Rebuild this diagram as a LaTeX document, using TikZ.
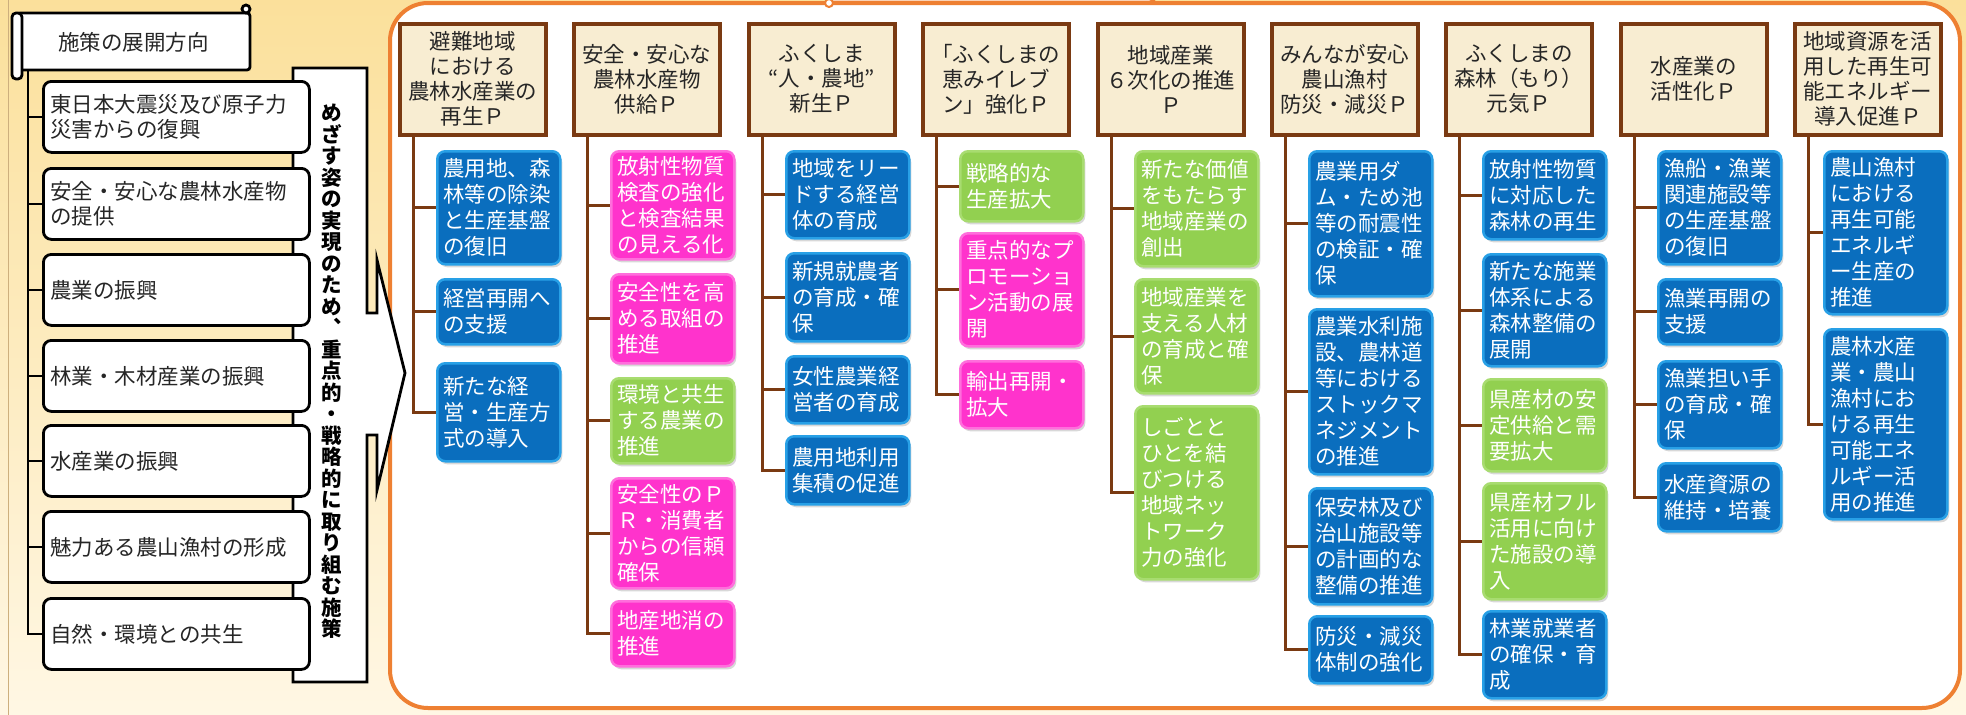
\documentclass[tikz,border=0pt]{standalone}
\usepackage{fontspec}
\setmainfont{Noto Sans CJK JP}
\usetikzlibrary{shadows}
\definecolor{bgtop}{RGB}{251,224,155}
\definecolor{bgbot}{RGB}{255,247,228}
\definecolor{frameor}{RGB}{238,128,50}
\definecolor{hbrown}{RGB}{122,58,18}
\definecolor{hbeige}{RGB}{248,237,210}
\definecolor{cblue}{RGB}{10,110,190}
\definecolor{cblueR}{RGB}{40,160,230}
\definecolor{cpink}{RGB}{255,51,204}
\definecolor{cpinkR}{RGB}{255,110,220}
\definecolor{cgreen}{RGB}{146,208,80}
\definecolor{cgreenR}{RGB}{168,220,112}
\definecolor{tan}{RGB}{205,175,125}
\newcommand\fsL{\fontsize{21.5}{25}\selectfont}
\newcommand\fsC{\fontsize{21.5}{26}\selectfont}
\newcommand\fsV{\bfseries\fontsize{20.5}{21.5}\selectfont}
\tikzset{
  blk/.style={draw=black, line width=2.8pt},
  lbox/.style={blk, fill=white, rounded corners=8pt, anchor=north west,
    minimum width=266pt, minimum height=71pt, text width=252pt, inner xsep=7pt,
    align=left, font=\fsL, text=black!85},
  hdr/.style={draw=hbrown, line width=3.5pt, fill=hbeige, anchor=north west,
    minimum width=146pt, minimum height=111pt, inner sep=0pt, align=center,
    font=\fsL, text=black!85},
  cbox/.style={rounded corners=8pt, anchor=north west, minimum width=123pt,
    text width=111pt, inner xsep=6pt, inner ysep=0pt, align=left, font=\fsC,
    text=white, line width=2.5pt,
    drop shadow={opacity=0.3, shadow xshift=2pt, shadow yshift=-3pt}},
  bbox/.style={cbox, fill=cblue, draw=cblueR},
  pbox/.style={cbox, fill=cpink, draw=cpinkR},
  gbox/.style={cbox, fill=cgreen, draw=cgreenR},
  br/.style={draw=hbrown, line width=3pt},
}
\begin{document}
\begin{tikzpicture}[x=1pt,y=-1pt]
\useasboundingbox (0,0) rectangle (1966,715);
% background
\shade[top color=bgtop, bottom color=bgbot] (0,0) rectangle (1966,715);
\draw[tan, line width=1pt] (8,0) -- (8,715);
% orange frame
\draw[frameor, line width=4pt, fill=white, rounded corners=38pt] (390,3) rectangle (1960,708);
% top tab (cut off)
\begin{scope}
\clip (0,0) rectangle (1966,715);
\draw[frameor, line width=3pt, fill=white, rounded corners=5pt] (827,-40) rectangle (1155,2);
\draw[frameor, line width=2pt, fill=white] (829,3) circle (4);
\end{scope}

% ===== left part =====
% banner with arrow callout
\draw[blk, fill=white, line join=miter] (293,68) -- (367,68) -- (367,313) -- (377,313) -- (377,260)
  -- (405,373) -- (377,490) -- (377,435) -- (367,435) -- (367,682) -- (293,682) -- cycle;
\node[font=\fsV, align=center, anchor=north, inner sep=0pt, text=black] (vt) at (332,104)
  {め\\ざ\\す\\姿\\の\\実\\現\\の\\た\\め\\︑\\重\\点\\的\\・\\戦\\略\\的\\に\\取\\り\\組\\む\\施\\策};

% title scroll
\draw[blk, fill=white, rounded corners=3pt] (17,13) rectangle (250,70);
\draw[blk, fill=white, rounded corners=4pt] (12,13) rectangle (22,79);
\draw[blk, fill=white] (246,9) circle (4);
\node[font=\fsL, text=black!85] (title) at (133.5,42) {施策の展開方向};

% trunk
\coordinate (lt) at (28,70);
\node[lbox] (l1) at (42,80)  {東日本大震災及び原子力\\災害からの復興};
\node[lbox] (l2) at (42,167) {安全・安心な農林水産物\\の提供};
\node[lbox] (l3) at (42,253) {農業の振興};
\node[lbox] (l4) at (42,339) {林業・木材産業の振興};
\node[lbox] (l5) at (42,424) {水産業の振興};
\node[lbox] (l6) at (42,510) {魅力ある農山漁村の形成};
\node[lbox] (l7) at (42,597) {自然・環境との共生};
\foreach \n in {l1,l2,l3,l4,l5,l6,l7} \draw[blk] (lt) |- (\n.west);

% ===== right part: headers =====
\node[hdr] (h1) at (398,22)  {避難地域\\における\\農林水産業の\\再生Ｐ};
\node[hdr] (h2) at (572,22)  {安全・安心な\\農林水産物\\供給Ｐ};
\node[hdr] (h3) at (747,22)  {ふくしま\\“人・農地”\\新生Ｐ};
\node[hdr] (h4) at (921,22)  {「ふくしまの\\恵みイレブ\\ン」強化Ｐ};
\node[hdr] (h5) at (1096,22) {地域産業\\６次化の推進\\Ｐ};
\node[hdr] (h6) at (1270,22) {みんなが安心\\農山漁村\\防災・減災Ｐ};
\node[hdr] (h7) at (1444,22) {ふくしまの\\森林（もり）\\元気Ｐ};
\node[hdr] (h8) at (1619,22) {水産業の\\活性化Ｐ};
\node[hdr] (h9) at (1793,22) {地域資源を活\\用した再生可\\能エネルギー\\導入促進Ｐ};

\coordinate (t1) at (413,135);
\coordinate (t2) at (587,135);
\coordinate (t3) at (762,135);
\coordinate (t4) at (936,135);
\coordinate (t5) at (1111,135);
\coordinate (t6) at (1285,135);
\coordinate (t7) at (1459,135);
\coordinate (t8) at (1634,135);
\coordinate (t9) at (1808,135);

% column 1
\node[bbox, minimum height=113pt] (c11) at (436,150) {農用地、森\\林等の除染\\と生産基盤\\の復旧};
\node[bbox, minimum height=65pt]  (c12) at (436,278) {経営再開へ\\の支援};
\node[bbox, minimum height=98pt]  (c13) at (436,362) {新たな経\\営・生産方\\式の導入};
% column 2
\node[pbox, minimum height=108pt] (c21) at (610,150) {放射性物質\\検査の強化\\と検査結果\\の見える化};
\node[pbox, minimum height=89pt]  (c22) at (610,273) {安全性を高\\める取組の\\推進};
\node[gbox, minimum height=85pt]  (c23) at (610,377) {環境と共生\\する農業の\\推進};
\node[pbox, minimum height=110pt] (c24) at (610,477) {安全性のＰ\\Ｒ・消費者\\からの信頼\\確保};
\node[pbox, minimum height=65pt]  (c25) at (610,600) {地産地消の\\推進};
% column 3
\node[bbox, minimum height=87pt] (c31) at (785,150) {地域をリー\\ドする経営\\体の育成};
\node[bbox, minimum height=88pt] (c32) at (785,252) {新規就農者\\の育成・確\\保};
\node[bbox, minimum height=67pt] (c33) at (785,355) {女性農業経\\営者の育成};
\node[bbox, minimum height=68pt] (c34) at (785,435) {農用地利用\\集積の促進};
% column 4
\node[gbox, minimum height=70pt]  (c41) at (959,150) {戦略的な\\生産拡大};
\node[pbox, minimum height=113pt] (c42) at (959,232) {重点的なプ\\ロモーショ\\ン活動の展\\開};
\node[pbox, minimum height=67pt]  (c43) at (959,360) {輸出再開・\\拡大};
% column 5
\node[gbox, minimum height=115pt] (c51) at (1134,150) {新たな価値\\をもたらす\\地域産業の\\創出};
\node[gbox, minimum height=114pt] (c52) at (1134,278) {地域産業を\\支える人材\\の育成と確\\保};
\node[gbox, minimum height=173pt] (c53) at (1134,405) {しごとと\\ひとを結\\びつける\\地域ネッ\\トワーク\\力の強化};
% column 6
\node[bbox, minimum height=145pt] (c61) at (1308,150) {農業用ダ\\ム・ため池\\等の耐震性\\の検証・確\\保};
\node[bbox, minimum height=165pt] (c62) at (1308,308) {農業水利施\\設、農林道\\等における\\ストックマ\\ネジメント\\の推進};
\node[bbox, minimum height=116pt] (c63) at (1308,487) {保安林及び\\治山施設等\\の計画的な\\整備の推進};
\node[bbox, minimum height=67pt]  (c64) at (1308,615) {防災・減災\\体制の強化};
% column 7
\node[bbox, minimum height=88pt]  (c71) at (1482,150) {放射性物質\\に対応した\\森林の再生};
\node[bbox, minimum height=112pt] (c72) at (1482,253) {新たな施業\\体系による\\森林整備の\\展開};
\node[gbox, minimum height=92pt]  (c73) at (1482,378) {県産材の安\\定供給と需\\要拡大};
\node[gbox, minimum height=116pt] (c74) at (1482,482) {県産材フル\\活用に向け\\た施設の導\\入};
\node[bbox, minimum height=87pt]  (c75) at (1482,610) {林業就業者\\の確保・育\\成};
% column 8
\node[bbox, minimum height=113pt] (c81) at (1657,150) {漁船・漁業\\関連施設等\\の生産基盤\\の復旧};
\node[bbox, minimum height=65pt]  (c82) at (1657,278) {漁業再開の\\支援};
\node[bbox, minimum height=87pt]  (c83) at (1657,360) {漁業担い手\\の育成・確\\保};
\node[bbox, minimum height=68pt]  (c84) at (1657,462) {水産資源の\\維持・培養};
% column 9
\node[bbox, minimum height=163pt] (c91) at (1823,150) {農山漁村\\における\\再生可能\\エネルギ\\ー生産の\\推進};
\node[bbox, minimum height=190pt] (c92) at (1823,328) {農林水産\\業・農山\\漁村にお\\ける再生\\可能エネ\\ルギー活\\用の推進};

% branches
\foreach \c in {c11,c12,c13} \draw[br] (t1) |- (\c.west);
\foreach \c in {c21,c22,c23,c24,c25} \draw[br] (t2) |- (\c.west);
\foreach \c in {c31,c32,c33,c34} \draw[br] (t3) |- (\c.west);
\foreach \c in {c41,c42,c43} \draw[br] (t4) |- (\c.west);
\foreach \c in {c51,c52,c53} \draw[br] (t5) |- (\c.west);
\foreach \c in {c61,c62,c63,c64} \draw[br] (t6) |- (\c.west);
\foreach \c in {c71,c72,c73,c74,c75} \draw[br] (t7) |- (\c.west);
\foreach \c in {c81,c82,c83,c84} \draw[br] (t8) |- (\c.west);
\foreach \c in {c91,c92} \draw[br] (t9) |- (\c.west);
\end{tikzpicture}
\end{document}
